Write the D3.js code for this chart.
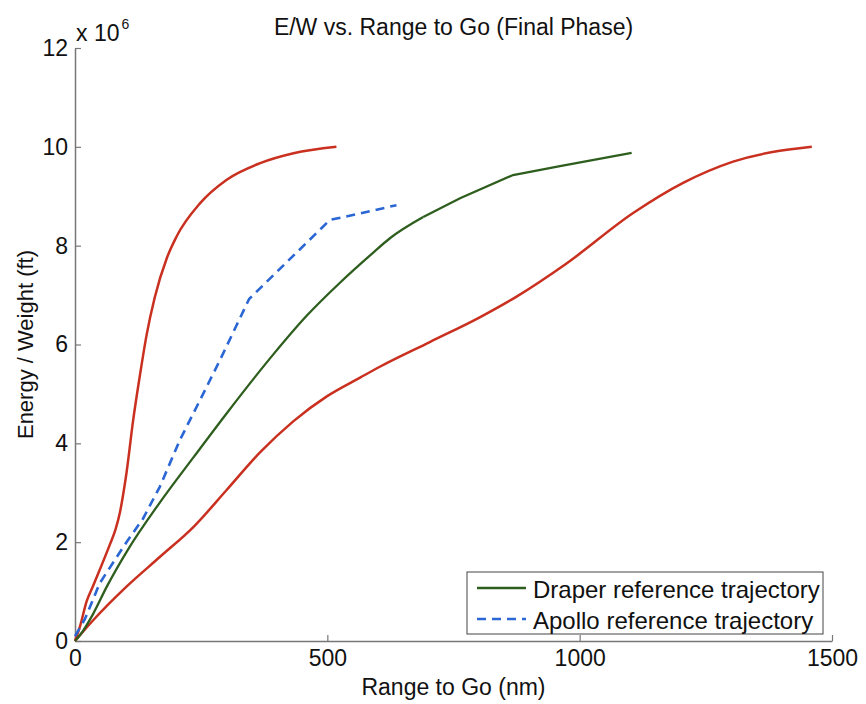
<!DOCTYPE html>
<html>
<head>
<meta charset="utf-8">
<script src="https://cdn.jsdelivr.net/npm/d3@7"></script>
<style>
body { margin: 0; background: #fff; }
text { font-family: "Liberation Sans", Arial, sans-serif; fill: #111; }
</style>
</head>
<body>
<div id="chart"></div>
<script>
// range to go (nm) vs energy/weight (x 1e6 ft)
const upperRange = [0, 10, 23, 36, 69, 80, 89, 96, 102, 115, 129, 142, 158, 182, 201, 248, 300, 367, 433, 518];
const upperEW = [0, 0.3, 0.8, 1.12, 1.95, 2.25, 2.6, 3.0, 3.4, 4.45, 5.4, 6.2, 6.95, 7.75, 8.18, 8.86, 9.33, 9.67, 9.87, 10.0];

const lowerRange = [0, 36, 102, 168, 235, 300, 367, 433, 499, 565, 604, 703, 802, 875, 974, 1106, 1205, 1304, 1460];
const lowerEW = [0, 0.42, 1.1, 1.7, 2.31, 3.05, 3.82, 4.45, 4.95, 5.33, 5.55, 6.05, 6.55, 6.97, 7.64, 8.66, 9.27, 9.7, 10.0];

const draperRange = [0, 10, 36, 63, 105, 168, 235, 300, 393, 459, 525, 591, 624, 690, 763, 868, 961, 1103];
const draperEW = [0, 0.12, 0.55, 1.1, 1.85, 2.8, 3.72, 4.6, 5.8, 6.58, 7.25, 7.86, 8.15, 8.58, 8.96, 9.43, 9.61, 9.88];

const apolloRange = [0, 20, 49, 102, 135, 168, 208, 248, 287, 345, 505, 560, 637];
const apolloEW = [0.1, 0.45, 1.17, 2.0, 2.48, 3.12, 4.07, 4.88, 5.68, 6.92, 8.52, 8.64, 8.82];

const xTicks = [0, 500, 1000, 1500];
const yTicks = [0, 2, 4, 6, 8, 10, 12];
const legendLabels = ["Draper reference trajectory", "Apollo reference trajectory"];

const width = 866, height = 704;
const margin = {left: 75, right: 34, top: 48, bottom: 63};

const svg = d3.select("#chart").append("svg")
	.attr("width", width)
	.attr("height", height);

const x = d3.scaleLinear().domain([0, 1500]).range([margin.left, width - margin.right]);
const y = d3.scaleLinear().domain([0, 12]).range([height - margin.bottom, margin.top]);

const xAxis = d3.axisBottom(x).tickValues(xTicks).tickFormat(d3.format("d"))
	.tickSizeInner(-6).tickSizeOuter(0).tickPadding(9);
const yAxis = d3.axisLeft(y).tickValues(yTicks).tickFormat(d3.format("d"))
	.tickSizeInner(-6).tickSizeOuter(0).tickPadding(7);

const gx = svg.append("g").attr("transform", "translate(0," + y(0) + ")").call(xAxis);
const gy = svg.append("g").attr("transform", "translate(" + x(0) + ",0)").call(yAxis);
[gx, gy].forEach(g => {
	g.select(".domain").attr("stroke", "#777").attr("stroke-width", 1.5);
	g.selectAll(".tick line").attr("stroke", "#777").attr("stroke-width", 1.2);
	g.selectAll(".tick text").style("font-size", "23px").attr("fill", "#111");
});

// exponent label
const expo = svg.append("text").attr("x", x(0) + 1).attr("y", 41).style("font-size", "23px");
expo.append("tspan").text("x 10");
expo.append("tspan").attr("dy", -12).attr("dx", 2).style("font-size", "14px").text("6");

svg.append("text")
	.attr("x", (x(0) + x(1500)) / 2).attr("y", 35)
	.attr("text-anchor", "middle").style("font-size", "23px")
	.text("E/W vs. Range to Go (Final Phase)");

svg.append("text")
	.attr("x", (x(0) + x(1500)) / 2).attr("y", 695)
	.attr("text-anchor", "middle").style("font-size", "23px")
	.text("Range to Go (nm)");

svg.append("text")
	.attr("transform", "translate(33," + y(6) + ") rotate(-90)")
	.attr("text-anchor", "middle").style("font-size", "22px")
	.text("Energy / Weight (ft)");

function pts(xs, ys) { return xs.map((d, i) => [d, ys[i]]); }

const smooth = d3.line().x(d => x(d[0])).y(d => y(d[1])).curve(d3.curveMonotoneX);
const straight = d3.line().x(d => x(d[0])).y(d => y(d[1])).curve(d3.curveLinear);

svg.append("path").attr("d", smooth(pts(upperRange, upperEW)))
	.attr("fill", "none").attr("stroke", "#c9301f").attr("stroke-width", 2.5);
svg.append("path").attr("d", smooth(pts(lowerRange, lowerEW)))
	.attr("fill", "none").attr("stroke", "#c9301f").attr("stroke-width", 2.5);

// draper: smooth lower part, coarse straight segments at the top end
const draperPts = pts(draperRange, draperEW);
const split = draperRange.indexOf(690);
svg.append("path").attr("d", smooth(draperPts.slice(0, split + 1)))
	.attr("fill", "none").attr("stroke", "#2e5e1e").attr("stroke-width", 2.3);
svg.append("path").attr("d", straight(draperPts.slice(split)))
	.attr("fill", "none").attr("stroke", "#2e5e1e").attr("stroke-width", 2.3);

svg.append("path").attr("d", straight(pts(apolloRange, apolloEW)))
	.attr("fill", "none").attr("stroke", "#2a66d4").attr("stroke-width", 2.6)
	.attr("stroke-dasharray", "9,6");

// legend
const lg = svg.append("g");
lg.append("rect").attr("x", 467).attr("y", 572).attr("width", 356).attr("height", 62)
	.attr("fill", "#fff").attr("stroke", "#444").attr("stroke-width", 1);
const legendStyles = [
	{stroke: "#2e5e1e", dash: null, w: 2.3},
	{stroke: "#2a66d4", dash: "9,6", w: 2.6}
];
legendLabels.forEach((lab, i) => {
	const yy = 588 + i * 31;
	lg.append("line").attr("x1", 477).attr("x2", 526).attr("y1", yy).attr("y2", yy)
		.attr("stroke", legendStyles[i].stroke).attr("stroke-width", legendStyles[i].w)
		.attr("stroke-dasharray", legendStyles[i].dash);
	lg.append("text").attr("x", 533).attr("y", yy + 2).attr("dy", "0.35em")
		.style("font-size", "24px").text(lab);
});
</script>
</body>
</html>
